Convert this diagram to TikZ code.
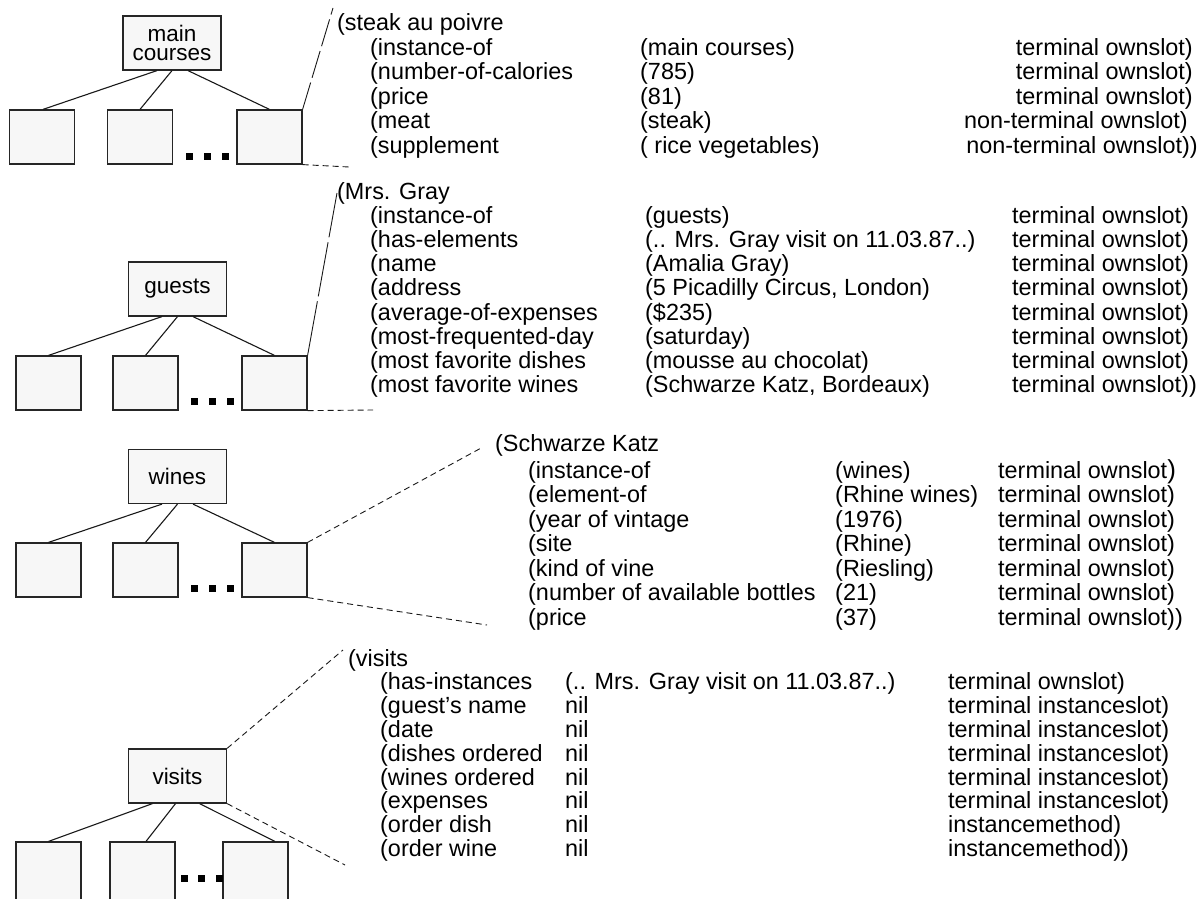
\documentclass[tikz,border=0pt]{standalone}
\usepackage{fontspec}
\setmainfont{Liberation Sans}

% one slot line of a frame: name, baseline, column x positions, tag anchor, three texts
\newcommand{\slotrow}[9]{%
  \node[txt,anchor=base west] (#1s) at (#3,#2) {#7};
  \node[txt,anchor=base west] (#1v) at (#4,#2) {#8};
  \node[txt,anchor=base #6] (#1t) at (#5,#2) {#9};}

\begin{document}
\begin{tikzpicture}[x=1pt,y=-1pt,
  txt/.style={inner sep=0pt, font=\fontsize{23.4}{24}\selectfont, text=black},
  frame/.style={draw=black!85, line width=1.2pt, fill=black!3, inner sep=0pt},
  classbox/.style={frame, minimum width=98pt, minimum height=54pt, align=center,
                   font=\fontsize{22.5}{19}\selectfont},
  leaf/.style={frame, minimum width=65pt, minimum height=54pt},
  link/.style={draw=black!90, line width=1.1pt},
  zoomlong/.style={draw=black!90, line width=0.9pt, dash pattern=on 28pt off 5pt},
  zoomshort/.style={draw=black!90, line width=0.9pt, dash pattern=on 6pt off 4pt}
]
\useasboundingbox (0,0) rectangle (1200,899);
\clip (0,0) rectangle (1200,899);

% ---------------- main courses ----------------
\node[classbox] (mc) at (172,43) {main\\courses};
\node[leaf] (mc1) at (42,137) {};
\node[leaf] (mc2) at (140,137) {};
\node[leaf] (mc3) at (269.5,137) {};
\draw[link] ([xshift=-15pt]mc.south) -- ([xshift=1pt]mc1.north);
\draw[link] (mc.south) -- (mc2.north);
\draw[link] ([xshift=16pt]mc.south) -- (mc3.north);
\fill (186,152.5) rectangle +(7,7);
\fill (204,152.5) rectangle +(7,7);
\fill (221.5,152.5) rectangle +(7,7);
\coordinate (mcU) at (333,8);
\coordinate (mcL) at (349,167);
\draw[zoomlong] (mc3.north east) -- (mcU);
\draw[zoomshort] (mc3.south east) -- (mcL);

\node[txt,anchor=base west] (mtitle) at (337,31) {(steak au poivre};
\slotrow{m1}{55.4}{370}{640}{1193}{east}{(instance-of}{(main courses)}{terminal ownslot)}
\slotrow{m2}{79.8}{370}{640}{1193}{east}{(number-of-calories}{(785)}{terminal ownslot)}
\slotrow{m3}{104.2}{370}{640}{1193}{east}{(price}{(81)}{terminal ownslot)}
\slotrow{m4}{128.6}{370}{640}{1188}{east}{(meat}{(steak)}{non-terminal ownslot)}
\slotrow{m5}{153}{370}{640}{1198}{east}{(supplement}{( rice vegetables)}{non-terminal ownslot))}

% ---------------- guests ----------------
\node[classbox] (gu) at (177.5,289) {guests};
\node[leaf] (gu1) at (48.5,383) {};
\node[leaf] (gu2) at (145.5,383) {};
\node[leaf] (gu3) at (274.5,383) {};
\draw[link] ([xshift=-15.5pt]gu.south) -- (gu1.north);
\draw[link] (gu.south) -- (gu2.north);
\draw[link] ([xshift=15.5pt]gu.south) -- (gu3.north);
\fill (191,398) rectangle +(7,7);
\fill (209,398) rectangle +(7,7);
\fill (227,398) rectangle +(7,7);
\coordinate (guU) at (337,193);
\coordinate (guL) at (373,410);
\draw[zoomlong, dash pattern=on 55pt off 5pt] (gu3.north east) -- (guU);
\draw[zoomshort] (gu3.south east) -- (guL);

\node[txt,anchor=base west] (gtitle) at (337,199) {(Mrs. Gray};
\slotrow{g1}{223.2}{370}{645}{1012}{west}{(instance-of}{(guests)}{terminal ownslot)}
\slotrow{g2}{247.4}{370}{645}{1012}{west}{(has-elements}{(.. Mrs. Gray visit on 11.03.87..)}{terminal ownslot)}
\slotrow{g3}{271.6}{370}{645}{1012}{west}{(name}{(Amalia Gray)}{terminal ownslot)}
\slotrow{g4}{295.8}{370}{645}{1012}{west}{(address}{(5 Picadilly Circus, London)}{terminal ownslot)}
\slotrow{g5}{320}{370}{645}{1012}{west}{(average-of-expenses}{(\$235)}{terminal ownslot)}
\slotrow{g6}{344.2}{370}{645}{1012}{west}{(most-frequented-day}{(saturday)}{terminal ownslot)}
\slotrow{g7}{368.4}{370}{645}{1012}{west}{(most favorite dishes}{(mousse au chocolat)}{terminal ownslot)}
\slotrow{g8}{392.6}{370}{645}{1012}{west}{(most favorite wines}{(Schwarze Katz, Bordeaux)}{terminal ownslot))}

% ---------------- wines ----------------
\node[classbox] (wi) at (177.5,476.5) {wines};
\node[leaf] (wi1) at (48.5,570) {};
\node[leaf] (wi2) at (145.5,570) {};
\node[leaf] (wi3) at (274.5,570) {};
\draw[link] ([xshift=-15.5pt]wi.south) -- (wi1.north);
\draw[link] (wi.south) -- (wi2.north);
\draw[link] ([xshift=15.5pt]wi.south) -- (wi3.north);
\fill (191,585) rectangle +(7,7);
\fill (209,585) rectangle +(7,7);
\fill (227,585) rectangle +(7,7);
\coordinate (wiU) at (483,447);
\coordinate (wiL) at (487,625);
\draw[zoomshort] (wi3.north east) -- (wiU);
\draw[zoomshort] (wi3.south east) -- (wiL);

\node[txt,anchor=base west] (wtitle) at (495,451) {(Schwarze Katz};
\slotrow{w1}{478}{528}{835}{998}{west}{(instance-of}{(wines)}{terminal ownslot{\fontsize{26}{24}\selectfont)}}
\slotrow{w2}{502.5}{528}{835}{998}{west}{(element-of}{(Rhine wines)}{terminal ownslot)}
\slotrow{w3}{527}{528}{835}{998}{west}{(year of vintage}{(1976)}{terminal ownslot)}
\slotrow{w4}{551.5}{528}{835}{998}{west}{(site}{(Rhine)}{terminal ownslot)}
\slotrow{w5}{576}{528}{835}{998}{west}{(kind of vine}{(Riesling)}{terminal ownslot)}
\slotrow{w6}{600.5}{528}{835}{998}{west}{(number of available bottles}{(21)}{terminal ownslot)}
\slotrow{w7}{625}{528}{835}{998}{west}{(price}{(37)}{terminal ownslot))}

% ---------------- visits ----------------
\node[classbox] (vi) at (177.5,776) {visits};
\node[leaf] (vi1) at (48.5,879) [minimum height=74pt] {};
\node[leaf] (vi2) at (142.5,879) [minimum height=74pt] {};
\node[leaf] (vi3) at (255.5,879) [minimum height=74pt] {};
\draw[link] ([xshift=-25pt]vi.south) -- (vi1.north);
\draw[link] ([xshift=-2pt]vi.south) -- ([xshift=3.5pt]vi2.north);
\draw[link] ([xshift=22pt]vi.south) -- ([xshift=19.5pt]vi3.north);
\fill (181,875) rectangle +(7,7);
\fill (198,875) rectangle +(7,7);
\fill (216,875) rectangle +(7,7);
\coordinate (viU) at (343,650);
\coordinate (viL) at (345,865);
\draw[zoomshort] (vi.north east) -- (viU);
\draw[zoomshort] (vi.south east) -- (viL);

\node[txt,anchor=base west] (vtitle) at (348,666) {(visits};
\slotrow{v1}{689.8}{380}{565}{948}{west}{(has-instances}{(.. Mrs. Gray visit on 11.03.87..)}{terminal ownslot)}
\slotrow{v2}{713.6}{380}{565}{948}{west}{(guest’s name}{nil}{terminal instanceslot)}
\slotrow{v3}{737.4}{380}{565}{948}{west}{(date}{nil}{terminal instanceslot)}
\slotrow{v4}{761.2}{380}{565}{948}{west}{(dishes ordered}{nil}{terminal instanceslot)}
\slotrow{v5}{785}{380}{565}{948}{west}{(wines ordered}{nil}{terminal instanceslot)}
\slotrow{v6}{808.8}{380}{565}{948}{west}{(expenses}{nil}{terminal instanceslot)}
\slotrow{v7}{832.6}{380}{565}{948}{west}{(order dish}{nil}{instancemethod)}
\slotrow{v8}{856.4}{380}{565}{948}{west}{(order wine}{nil}{instancemethod))}
\end{tikzpicture}
\end{document}
